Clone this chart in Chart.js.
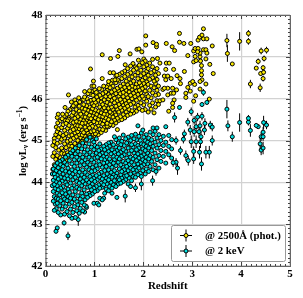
<!DOCTYPE html>
<html>
<head>
<meta charset="utf-8">
<style>html,body{margin:0;padding:0;background:#fff}canvas{display:block}</style>
<script src="https://cdn.jsdelivr.net/npm/chart.js@4"></script>
</head>
<body>
<canvas id="chart" width="303" height="298"></canvas>
<script>
// dense part of the clouds: [redshift, [log L, ...]]
const uvDense = [
[.15,[44.62,44.31,44.88]],[.18,[44.42,44.97,44.71,45.05]],[.21,[44.55,44.24,44.83,45.14]],[.24,[44.36,44.93,44.64,45.21]],
[.27,[44.77,44.49,45.08,44.33,45.28]],[.3,[44.59,44.96,44.38,45.17]],[.33,[44.82,45.31,44.51,45.03,44.69]],[.36,[44.44,45.12,44.74,45.38]],
[.39,[44.92,44.57,45.24,44.68,45.06]],[.42,[44.63,45.41,44.83,45.16,44.52]],[.45,[44.98,44.71,45.29,45.47,44.6]],[.48,[44.87,45.11,44.66,45.36,45.55]],
[.51,[44.78,45.22,45.01,45.48,44.92]],[.54,[44.69,45.33,45.13,44.86,45.6]],[.57,[45.05,44.8,45.43,45.26,45.67]],[.6,[44.93,45.18,44.74,45.53,45.37]],
[.63,[45.09,44.85,45.62,45.29,45.46,45.74]],[.66,[45,45.35,44.82,45.21,45.57]],[.69,[44.9,45.14,45.7,45.44,45.28,45.82]],[.72,[45.07,45.51,44.94,45.34,45.63]],
[.75,[45.24,44.98,45.77,45.41,45.58,45.13]],[.78,[45.03,45.47,45.19,45.69,45.86]],[.81,[45.32,45.1,45.56,44.99,45.75,45.42]],[.84,[45.04,45.25,45.64,45.48,45.83]],
[.87,[45.17,45.37,45.92,45.55,45.07,45.72]],[.9,[45.3,45.12,45.6,45.44,45.8]],[.93,[45.21,45.52,45.08,45.96,45.68,45.39]],[.96,[45.14,45.34,45.76,45.59,45.88]],
[.99,[45.45,45.23,45.66,45.11,45.98,45.83]],[1.02,[45.31,45.54,45.16,45.73,45.91]],[1.05,[45.2,45.42,45.62,45.85,46.04]],[1.08,[45.36,45.14,45.7,45.5,45.96]],
[1.11,[45.27,45.58,45.8,45.43,46.08]],[1.14,[45.19,45.48,45.92,45.66,46.02]],[1.17,[45.39,45.75,45.26,45.57,46.12,45.86]],[1.2,[45.31,45.63,45.47,45.97,45.78]],
[1.23,[45.24,45.54,45.84,45.7,46.16,46.05]],[1.26,[45.41,45.34,45.62,45.91,46.2]],[1.29,[45.5,45.77,45.33,46.1,45.99]],[1.32,[45.38,45.68,45.58,45.87,46.26,46.05]],
[1.35,[45.45,45.8,45.96,46.16,45.65]],[1.38,[45.36,45.56,45.74,46.3,46.07]],[1.41,[45.49,45.9,45.66,46.2,46.01]],[1.44,[45.42,45.61,46.12,45.82,46.38]],
[1.47,[45.26,45.53,45.74,45.95,46.25]],[1.5,[45.48,45.68,46.06,45.86,46.42,46.18]],[1.53,[45.57,45.79,46.3,45.98,46.12]],[1.56,[45.5,45.72,45.92,46.22,46.48]],
[1.59,[45.62,45.85,46.05,46.35,46.15]],[1.62,[45.54,45.77,46.27,45.96,46.53]],[1.65,[45.68,46.1,45.88,46.42,46.2]],[1.68,[45.6,45.82,46.02,46.33,46.58]],
[1.71,[45.74,45.94,46.16,46.47,46.26]],[1.74,[45.63,45.86,46.08,46.62,46.37]],[1.77,[45.71,46,46.22,46.52,46.3]],[1.8,[45.66,45.9,46.13,46.42,46.68]],
[1.83,[45.8,46.05,46.27,46.56]],[1.86,[45.7,45.96,46.18,46.35,46.72]],[1.89,[45.84,46.1,46.48,46.62,46.28]],[1.92,[45.76,46,46.2,46.38,46.8]],
[1.95,[45.9,46.14,46.55,46.68,46.32]],[1.98,[45.72,46.06,46.44,46.24,46.86]],[2.01,[45.85,46,46.6,46.36,46.76,46.95]],[2.04,[45.74,46.18,46.5,46.28,46.9]],
[2.07,[45.94,46.1,46.66,46.4,46.8]],[2.1,[45.68,46.05,46.34,46.56,46.72]],[2.13,[45.84,46.2,46.46,46.85]],[2.16,[45.75,46.02,46.62,46.3]],
[2.19,[45.9,46.5,46.14,46.76,46.94]],[2.22,[45.66,46.26,46.42,46.66]],[2.25,[45.8,46.08,46.56,46.36]],[2.28,[46.2,45.95,46.72,46.46]],[2.31,[45.86,46.1,46.6,46.3]]
];
const xrayDense = [
[.14,[43.92,44.2]],[.16,[43.55,43.78,44.05,44.32]],[.18,[43.33,43.66,43.95,44.2]],[.2,[43.48,43.85,44.12,44.4]],[.22,[43.62,43.37,44.02,44.28]],
[.24,[43.74,43.5,44.17,43.92,44.46]],[.26,[43.28,43.6,44.08,44.35,43.82]],[.29,[43.44,43.98,44.24,43.7,44.5]],[.31,[43.56,43.22,44.12,43.86,44.42]],
[.34,[43.36,43.75,44.03,44.3,44.54]],[.36,[43.5,43.9,44.2,43.65,44.38]],[.39,[43.24,43.6,44.1,43.8,44.48]],[.41,[43.42,43.72,44,44.27,44.6]],
[.44,[43.3,43.56,43.94,44.16,44.42]],[.46,[43.66,43.84,44.34,44.08,44.65]],[.49,[43.2,43.48,43.76,44.24,44.52]],[.51,[43.36,43.62,43.98,44.14,44.7]],
[.54,[43.14,43.52,43.86,44.3,44.44,44.62]],[.56,[43.28,43.7,44.06,44.2,44.76]],[.59,[43.42,43.6,43.92,44.38,44.54]],[.61,[43.16,43.78,44.12,44.26,44.68,44.82]],
[.64,[43.32,43.54,43.88,44.02,44.46,44.6]],[.66,[43.46,43.68,44.16,44.32,44.74]],[.69,[43.26,43.84,43.98,44.24,44.88,44.54]],[.71,[43.38,43.6,44.08,44.4,44.66]],
[.74,[43.52,43.74,43.92,44.18,44.8,44.5]],[.76,[43.32,43.66,44.02,44.3,44.6,44.94]],[.79,[43.46,43.82,44.12,44.42,44.72]],[.81,[43.58,43.96,44.24,44.54,44.86]],
[.84,[43.4,43.72,44.06,44.36,44.66,45.02]],[.86,[43.64,43.88,44.18,44.48,44.78]],[.89,[43.74,44,44.3,44.6,44.92]],[.91,[43.68,43.9,44.14,44.42,44.72,45.08]],
[.94,[43.82,44.06,44.26,44.54,44.84]],[.96,[43.72,43.96,44.18,44.36,44.66,45]],[.99,[43.5,43.86,44.1,44.48,44.78,44.96]],[1.01,[43.78,44.02,44.28,44.58,44.88]],
[1.04,[43.9,44.16,44.4,44.7,45.04]],[1.06,[43.5,43.8,44.06,44.32,44.6,44.84]],[1.09,[43.46,43.94,44.2,44.5,44.76]],[1.11,[43.62,43.86,44.12,44.42,44.66,44.92]],
[1.14,[43.98,44.24,44.56,44.8]],[1.16,[43.58,43.88,44.08,44.36,44.7]],[1.19,[43.62,43.94,44.16,44.46,44.62,44.86]],[1.21,[43.74,44.02,44.28,44.54,44.78]],
[1.24,[43.84,44.1,44.38,44.68,44.9]],[1.26,[43.96,44.2,44.48,44.6,44.82]],[1.29,[43.8,44.06,44.3,44.74,44.94]],[1.31,[43.9,44.14,44.42,44.56,44.86]],
[1.34,[44,44.24,44.5,44.68,44.96]],[1.36,[43.74,43.86,44.12,44.36,44.78]],[1.39,[43.94,44.18,44.46,44.62,44.9]],[1.41,[44.04,44.28,44.54,44.72,45.09]],
[1.44,[43.9,44.14,44.4,44.84,45.02]],[1.46,[43.64,44,44.22,44.6,44.76]],[1.49,[43.96,44.1,44.48,44.68,44.94]],[1.51,[44.06,44.32,44.56,44.82,45.06]],
[1.54,[43.98,44.18,44.42,44.72,44.9]],[1.56,[44.1,44.26,44.62,44.98]],[1.59,[44.02,44.36,44.5,44.78,45.13]],[1.61,[44.14,44.3,44.66,44.88]],
[1.64,[44.06,44.22,44.46,44.74,45.04]],[1.66,[44.16,44.38,44.58,44.94]],[1.69,[43.96,44.28,44.52,44.82,45.08]],[1.71,[44.1,44.42,44.68,44.92]],
[1.74,[44.2,44.34,44.6,45]],[1.76,[44.04,44.48,44.76,44.9,45.12]],[1.79,[44.14,44.3,44.56,44.84]],[1.81,[44.24,44.42,44.7,45.04]],
[1.84,[44.12,44.36,44.62,44.92,45.15]],[1.86,[44.28,44.52,44.78,45.02]],[1.89,[44.18,44.44,44.68,44.88,45.35]],[1.91,[44.34,44.58,44.82,45.1]],
[1.94,[44.22,44.48,44.72,45]],[1.96,[44.14,44.38,44.62,44.92,45.18]],[1.99,[44.28,44.54,44.8,45.25]],[2.01,[44.42,44.66,44.9,45.08]],
[2.04,[44.2,44.5,44.76,45]],[2.06,[44.32,44.6,44.86,45.14]],[2.09,[44.44,44.7,44.96]],[2.11,[44.26,44.56,44.82,45.06]],
[2.14,[44.38,44.64,44.92,45.2]],[2.17,[44.5,44.76,45.02]],[2.2,[44.3,44.6,44.86,45.14,45.3]],[2.24,[44.42,44.7,44.96,45.22]],
[2.28,[44.54,44.82,45.06,45.3]],[2.32,[44.34,44.64,44.9,45.14]],[2.36,[44.5,44.76,45]],[2.41,[44.62,44.88,45.1]],
[2.46,[44.46,44.74,44.96,45.33]],[2.52,[44.66,44.86,45.12]],[2.58,[44.58,44.8,45.02]]
];
// upper edge of the yellow cloud
const uvEdge = [
[.22,[45.32]],[.25,[45.42]],[.3,[45.47]],[.34,[45.52]],[.38,[45.58]],[.43,[45.62]],[.46,[45.7]],[.5,[45.74]],[.55,[45.8]],[.53,[45.92]],
[.66,[45.84]],[.7,[45.92]],[.74,[45.96]],[.68,[46.02]],[.8,[46.04]],[.85,[46]],[.87,[46.12]],[.92,[46.1]],[.97,[46.08]],[.95,[46.18]],
[1.04,[46.15]],[1.08,[46.12]],[1.1,[46.24]],[1.15,[46.22]],[1.19,[46.3]],[1.25,[46.28]],[1.28,[46.32]],[1.34,[46.36]],[1.37,[46.44]],[1.46,[46.56]],
[1.51,[46.58]],[1.56,[46.62]],[1.62,[46.66]],[1.68,[46.72]],[1.74,[46.78]],[1.79,[46.84]],[1.84,[46.76]],[1.9,[46.92]]
];
// isolated points: [redshift, log L, error]
const uvSparse = [
[1.16,47.05,0],[1.33,46.96,0],[1.48,47.01,0],[1.51,47.15,0],[1.73,47.07,0],[1.87,47.18,0],[1.91,47.19,0],[1.97,47.12,0],[2.05,47.5,0],[2.05,47.28,0],
[.92,46.71,0],[1.16,46.48,0],[.47,46.09,0],[1.63,46.81,0],[3.23,47.67,0],[3.2,47.52,0],[3.15,47.47,0],[3.12,47.4,0],[3.23,47.43,0],[3.3,47.43,0],
[2.74,47.56,0],[2.47,47.32,0],[2.2,47.34,0],[2.27,47.3,0],[2.27,47.24,0],[2.59,47.24,0],[2.64,47.15,0],[2.74,47.35,0],[2.83,47.32,0],[2.97,47.32,0],
[3.41,47.26,0],[3.06,47.2,0],[3.12,47.2,0],[3.23,47.17,0],[3.28,47.17,0],[3.03,47.14,0],[3.11,47.12,0],[3.16,47.09,0],[3.3,47.09,0],[2.91,47.03,0],
[3.06,47.01,0],[3.16,47,0],[3.28,46.95,0],[3.03,46.88,0],[3.08,46.91,0],[3.17,46.9,0],[3.36,46.82,0],[3.19,46.79,0],[3.19,46.67,0],[3.19,46.57,0],
[3.43,46.6,0],[2.84,46.65,0],[2.62,46.7,0],[2.46,46.7,0],[2.29,46.96,0],[2.47,46.85,0],[2.53,46.85,0],[2.34,46.85,0],
[2.43,46.54,0],[2.5,46.54,0],[2.57,46.48,0],[2.69,46.55,0],[2.75,46.48,0],[2.46,46.45,0],[2.76,46.36,0],[3.01,46.41,0],[2.96,46.37,0],[3.05,46.34,0],
[3.2,46.45,0],[3.16,46.41,0],[3.28,46.35,0],[2.91,46.27,0],[2.96,46.18,0],[2.87,46.13,0],[2.87,46.03,0],[3.07,46.07,0],[3.16,46.23,0],[3.35,45.99,0],
[3.03,45.94,0],[2.6,45.89,0],[2.6,45.79,0],[2.52,45.7,0],[2.34,45.95,0],[2.4,45.97,0],[2.63,45.97,0],[2.5,46.09,0],[2.57,46.13,0],[2.68,46.21,0],
[2.62,46.13,0],[2.5,46.25,0],[2.6,46.25,0],[2.43,46.25,0],[2.4,46.22,0],
[1.32,46.62,0],[1.39,46.62,0],[1.44,46.54,0],[1.47,46.45,0],[1.29,46.41,0],[1.42,46.45,0],[.98,46.42,0],[.95,46.3,0],[.99,46.3,0],[.8,46.17,0],[.9,46.19,0],[1.01,46.21,0],
[.78,45.98,0],[.6,45.97,0],[.62,45.89,0],[.57,45.83,0],[.4,45.79,0],[.26,45.63,0],[.35,45.63,0],[.24,45.55,0],[.47,45.51,0],[.4,45.48,0],
[3.71,47.39,.16],[3.72,47.08,.2],[3.82,46.83,.04],[3.97,47.37,.22],[4.15,47.56,.08],[4.15,47.37,.08],[4.41,47.14,.08],[4.52,47.16,.08],[4.47,46.96,.07],[4.35,46.89,.07],
[4.31,46.73,.03],[4.45,46.74,.06],[4.46,46.63,.06],[4.4,46.6,.05],[4.45,46.48,.07],[4.19,46.35,.1],[4.39,46.26,.1]
];
const xraySparse = [
[3.71,45.75,.22],[3.73,45.35,.13],[3.82,45.09,.12],[3.97,45.43,.22],[4.15,45.53,.08],[4.15,45.44,.08],[4.19,45.24,.15],[4.31,45.36,.05],[4.35,45.33,.05],[4.46,45.43,.16],
[4.52,45.37,.1],[4.45,45.2,.12],[4.41,45.09,.1],[4.45,45.09,.1],[4.39,44.92,.15],[4.45,44.82,.15],[4.41,44.77,.12],[2.98,45.69,.1],[2.74,45.79,.05],[2.64,45.55,.12],
[3.23,46.15,.08],[3.3,45.91,.05],[3.2,45.86,.05],[3.41,45,.12],[3.11,45.56,.1],[3.2,45.58,.1],[3.04,45.48,.1],[2.91,45.44,.1],[3.26,45.41,.12],[3.37,45.37,.1],
[3.41,45.32,.1],[3.08,45.33,.15],[3.16,45.35,.12],[2.96,45.25,.12],[3.04,45.21,.12],[3.14,45.21,.15],[3.25,45.25,.12],[3.18,45.09,.15],[2.84,45.16,.1],[2.82,45.03,.1],
[2.98,44.97,.15],[3.08,44.97,.15],[3.17,44.97,.15],[2.67,45,.1],[3.03,44.56,.12],[2.92,44.52,.12],[2.7,44.34,.16],[3.19,44.44,.16],[2.67,44.48,.1],[2.61,44.47,.1],
[2.87,44.64,.12],[3.15,44.72,.15],[3.35,44.72,.15],[3.28,44.72,.15],[2.76,44.76,.1],[3.03,44.74,.12],[2.19,44.04,.12],[2.26,44.26,.1],
[.46,42.72,.1],[.215,42.83,.05],[.24,42.91,.05],[.38,43.03,.06],[.67,43.11,.15],[.8,43.29,.05],[.83,43.43,.05],[1.63,43.67,.15],[1.84,43.87,.1],[1.96,43.96,.15],[1.74,43.9,.06]
];
const xTicks = [0, 1, 2, 3, 4, 5];
const yTicks = [42, 43, 44, 45, 46, 47, 48];
const legendLabels = ['@ 2500Å (phot.)', '@ 2 keV'];
const uvColor = '#f8e800';
const xrayColor = '#00e0e0';

const toPoints = (dense, sparse) => {
    const pts = [];
    dense.forEach(([z, vals]) => vals.forEach(v => pts.push({ x: z, y: v })));
    sparse.forEach(([z, v]) => pts.push({ x: z, y: v }));
    // mix the drawing order so the overlap does not stack left to right
    return pts.sort((a, b) => (a.y * 73) % 1 - (b.y * 73) % 1);
};

// error bars as one broken line
const toErrors = (sparse) => {
    const pts = [];
    sparse.filter(p => p[2] > 0).forEach(([z, v, e]) => {
        pts.push({ x: z, y: v - e }, { x: z, y: v + e }, { x: z, y: null });
    });
    return pts;
};

const serif = '"Liberation Serif", serif';

// frame, inside ticks on all sides
const framePlugin = {
    id: 'frame',
    afterDatasetsDraw(chart) {
        const { ctx, chartArea: a, scales: { x, y } } = chart;
        ctx.save();
        ctx.strokeStyle = '#444';
        ctx.lineWidth = 1;
        ctx.beginPath();
        for (let i = 0; i <= 50; i++) {
            const p = Math.round(x.getPixelForValue(i / 10)) + 0.5, len = i % 10 === 0 ? 4 : 2;
            ctx.moveTo(p, a.bottom); ctx.lineTo(p, a.bottom - len);
            ctx.moveTo(p, a.top); ctx.lineTo(p, a.top + len);
        }
        for (let i = 0; i <= 60; i++) {
            const p = Math.round(y.getPixelForValue(42 + i / 10)) + 0.5, len = i % 10 === 0 ? 4 : 2;
            ctx.moveTo(a.left, p); ctx.lineTo(a.left + len, p);
            ctx.moveTo(a.right, p); ctx.lineTo(a.right - len, p);
        }
        ctx.stroke();
        ctx.strokeStyle = '#666';
        ctx.strokeRect(a.left + 0.5, a.top + 0.5, a.right - a.left, a.bottom - a.top);
        ctx.restore();
    }
};

// y title needs sub and superscript, legend has the cross marker
const textPlugin = {
    id: 'texts',
    afterDraw(chart) {
        const { ctx } = chart;
        ctx.save();
        ctx.fillStyle = '#000';
        ctx.translate(22, 141);
        ctx.rotate(-Math.PI / 2);
        const parts = [['log νL', 10.5, 0], ['ν', 7.5, 2.5], [' (erg s', 10.5, 0], ['−1', 7.5, -3.5], [')', 10.5, 0]];
        let w = 0;
        parts.forEach(p => { ctx.font = 'bold ' + p[1] + 'px ' + serif; w += ctx.measureText(p[0]).width; });
        let cx = -w / 2;
        ctx.textAlign = 'left';
        ctx.textBaseline = 'alphabetic';
        parts.forEach(p => {
            ctx.font = 'bold ' + p[1] + 'px ' + serif;
            ctx.fillText(p[0], cx, 3.5 + p[2]);
            cx += ctx.measureText(p[0]).width;
        });
        ctx.restore();

        ctx.save();
        ctx.fillStyle = '#fff';
        ctx.strokeStyle = '#999';
        ctx.lineWidth = 1;
        ctx.beginPath();
        ctx.roundRect(171.5, 225.5, 114, 36, 2);
        ctx.fill();
        ctx.stroke();
        [[uvColor, 235.5], [xrayColor, 251]].forEach(([col, py], i) => {
            ctx.strokeStyle = '#000';
            ctx.lineWidth = 1;
            ctx.beginPath();
            ctx.moveTo(180, py); ctx.lineTo(192, py);
            ctx.moveTo(186, py - 6); ctx.lineTo(186, py + 6);
            ctx.stroke();
            ctx.fillStyle = col;
            ctx.lineWidth = 1;
            ctx.beginPath();
            ctx.arc(186, py, 2, 0, Math.PI * 2);
            ctx.fill();
            ctx.stroke();
            ctx.fillStyle = '#000';
            ctx.font = 'bold 10.8px ' + serif;
            ctx.textBaseline = 'middle';
            ctx.fillText(legendLabels[i], 205, py + 0.5);
        });
        ctx.restore();
    }
};

const markerStyle = (color) => ({
    pointRadius: 2,
    pointBorderWidth: 1,
    pointBorderColor: '#000',
    pointBackgroundColor: color,
    showLine: false
});
const errorStyle = { showLine: true, pointRadius: 0, borderColor: '#000', borderWidth: 1, spanGaps: false };

new Chart(document.getElementById('chart').getContext('2d'), {
    type: 'scatter',
    data: {
        datasets: [
            { label: legendLabels[1], data: toPoints(xrayDense, xraySparse), order: 1, ...markerStyle(xrayColor) },
            { label: 'xray err', data: toErrors(xraySparse), order: 2, ...errorStyle },
            { label: legendLabels[0], data: toPoints(uvDense.concat(uvEdge), uvSparse), order: 3, ...markerStyle(uvColor) },
            { label: 'uv err', data: toErrors(uvSparse), order: 4, ...errorStyle }
        ]
    },
    options: {
        responsive: false,
        animation: false,
        layout: { padding: { top: 15, right: 13, left: 0, bottom: 0 } },
        plugins: { legend: { display: false }, tooltip: { enabled: false } },
        scales: {
            x: {
                type: 'linear', min: 0, max: 5,
                afterBuildTicks: s => { s.ticks = xTicks.map(v => ({ value: v })); },
                afterFit: s => { s.height = 32; },
                grid: { color: '#d2d2d2', lineWidth: 1.2, drawTicks: false },
                border: { display: false },
                ticks: { color: '#000', font: { family: serif, weight: 'bold', size: 11 }, padding: 2, maxRotation: 0, autoSkip: false },
                title: { display: true, text: 'Redshift', color: '#000', font: { family: serif, weight: 'bold', size: 11 }, padding: { top: 0, bottom: 5 } }
            },
            y: {
                type: 'linear', min: 42, max: 48,
                afterBuildTicks: s => { s.ticks = yTicks.map(v => ({ value: v })); },
                afterFit: s => { s.width = 45.5; },
                grid: { color: '#d2d2d2', lineWidth: 1.2, drawTicks: false },
                border: { display: false },
                ticks: { color: '#000', font: { family: serif, weight: 'bold', size: 11 }, padding: 3, autoSkip: false }
            }
        }
    },
    plugins: [framePlugin, textPlugin]
});
</script>
</body>
</html>
